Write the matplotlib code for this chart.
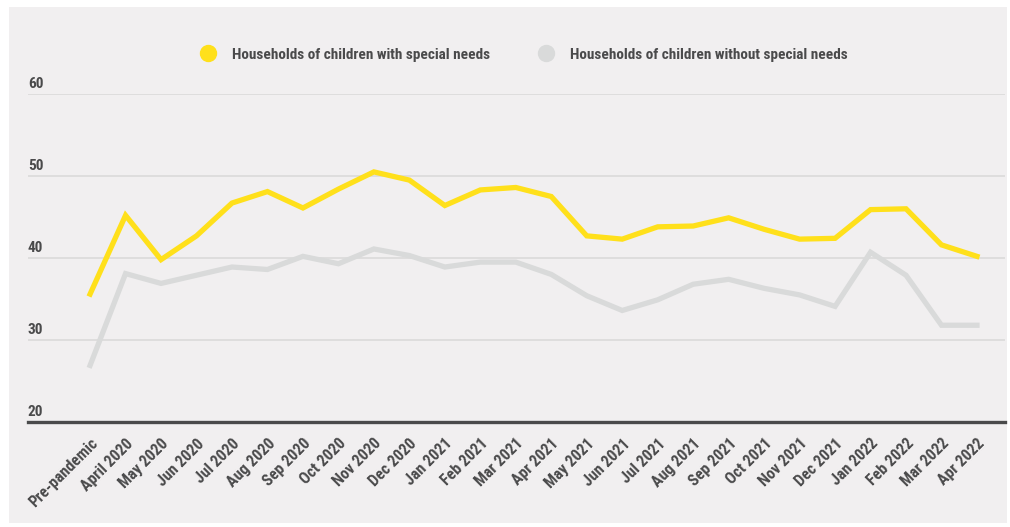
import matplotlib
matplotlib.use("Agg")
import matplotlib.pyplot as plt
from matplotlib.patches import Rectangle
from matplotlib.lines import Line2D
from matplotlib.transforms import offset_copy

months = ["Pre-pandemic", "April 2020", "May 2020", "Jun 2020", "Jul 2020", "Aug 2020",
          "Sep 2020", "Oct 2020", "Nov 2020", "Dec 2020", "Jan 2021", "Feb 2021",
          "Mar 2021", "Apr 2021", "May 2021", "Jun 2021", "Jul 2021", "Aug 2021",
          "Sep 2021", "Oct 2021", "Nov 2021", "Dec 2021", "Jan 2022", "Feb 2022",
          "Mar 2022", "Apr 2022"]

with_sen = [35.6, 45.2, 39.8, 42.7, 46.7, 48.1, 46.1, 48.4, 50.5, 49.5, 46.4, 48.3,
            48.6, 47.5, 42.7, 42.3, 43.8, 43.9, 44.9, 43.5, 42.3, 42.4, 45.9, 46.0,
            41.6, 40.2]
without_sen = [26.9, 38.1, 36.9, 37.9, 38.9, 38.6, 40.2, 39.3, 41.1, 40.3, 38.9, 39.5,
               39.5, 38.0, 35.4, 33.6, 34.9, 36.8, 37.4, 36.3, 35.5, 34.1, 40.7, 37.9,
               31.8, 31.8]

y_ticks = [20, 30, 40, 50, 60]
series_names = ["Households of children with special needs",
                "Households of children without special needs"]

YELLOW = "#ffe01b"
GREY = "#d9dada"
TEXT = "#4a4a4b"
PANEL = "#f1eff0"

plt.rcParams["font.family"] = ["Roboto Condensed", "Liberation Sans Narrow",
                               "Roboto", "DejaVu Sans"]
plt.rcParams["font.weight"] = "bold"

fig = plt.figure(figsize=(10.1, 5.27), dpi=100, facecolor="white")
fig.patches.append(Rectangle((9 / 1010, 4 / 527), 998 / 1010, 516 / 527,
                             transform=fig.transFigure, facecolor=PANEL,
                             edgecolor="none", zorder=-10))

ax = fig.add_axes([28 / 1010, 105 / 527, 977 / 1010, 328 / 527])
ax.set_facecolor("none")

x = list(range(len(months)))
ax.plot(x, without_sen, color=GREY, lw=3.8, solid_joinstyle="miter", zorder=3)
ax.plot(x, with_sen, color=YELLOW, lw=3.8, solid_joinstyle="miter", zorder=4)

ax.set_xlim(-1.75, 25.79)
ax.set_ylim(20, 60)

for s in ["top", "right", "left"]:
    ax.spines[s].set_visible(False)
ax.spines["bottom"].set_color(TEXT)
ax.spines["bottom"].set_linewidth(2.4)
ax.spines["bottom"].set_zorder(5)

ax.set_yticks(y_ticks)
ax.set_yticklabels([])
ax.tick_params(axis="y", length=0)
ax.grid(axis="y", color="#dcdcdc", lw=1.3, zorder=1)
ax.set_axisbelow(True)

# y labels sit just above their gridlines, flush with the left edge
label_tf = offset_copy(ax.get_yaxis_transform(), fig=fig, x=0, y=4.3, units="points")
for t in y_ticks:
    ax.text(0, t, str(t), transform=label_tf, ha="left", va="baseline",
            fontsize=11, color=TEXT, fontweight="bold")

ax.set_xticks(x)
ax.set_xticklabels(months, rotation=45, ha="right", rotation_mode="anchor",
                   fontsize=11.5, color=TEXT, fontweight="bold")
ax.tick_params(axis="x", length=0, pad=10)

handles = [Line2D([], [], ls="none", marker="o", ms=11.5, color=YELLOW),
           Line2D([], [], ls="none", marker="o", ms=11.5, color=GREY)]
fig.legend(handles, series_names, loc="center", bbox_to_anchor=(0.5185, 0.896),
           ncol=2, frameon=False, labelcolor=TEXT, handlelength=1.0,
           handletextpad=1.07, columnspacing=3.16, borderaxespad=0, borderpad=0,
           prop={"weight": "bold", "size": 11})

fig.savefig("out.png", dpi=100, facecolor="white")
